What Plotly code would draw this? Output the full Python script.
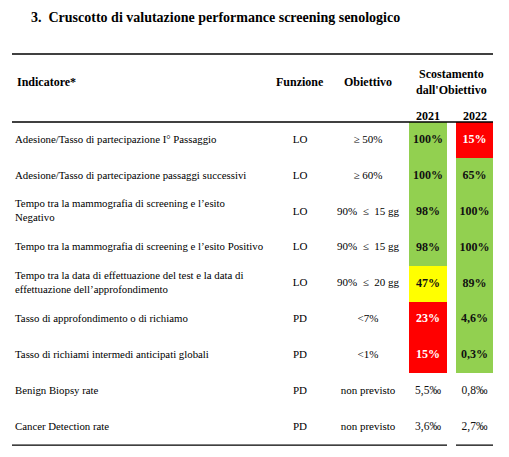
import plotly.graph_objects as go

# data
indicators = [
    "Adesione/Tasso di partecipazione I° Passaggio",
    "Adesione/Tasso di partecipazione passaggi successivi",
    "Tempo tra la mammografia di screening e l’esito<br>Negativo",
    "Tempo tra la mammografia di screening e l’esito Positivo",
    "Tempo tra la data di effettuazione del test e la data di<br>effettuazione dell’approfondimento",
    "Tasso di approfondimento o di richiamo",
    "Tasso di richiami intermedi anticipati globali",
    "Benign Biopsy rate",
    "Cancer Detection rate",
]
funzione = ["LO", "LO", "LO", "LO", "LO", "PD", "PD", "PD", "PD"]
obiettivo = ["≥ 50%", "≥ 60%", "90%  ≤  15 gg", "90%  ≤  15 gg", "90%  ≤  20 gg",
             "<7%", "<1%", "non previsto", "non previsto"]
years = ["2021", "2022"]
val_2021 = ["100%", "100%", "98%", "98%", "47%", "23%", "15%", "5,5‰", "3,6‰"]
val_2022 = ["15%", "65%", "100%", "100%", "89%", "4,6%", "0,3%", "0,8‰", "2,7‰"]
# 0 = green, 1 = yellow, 2 = red, None = no fill
status_2021 = [0, 0, 0, 0, 1, 2, 2, None, None]
status_2022 = [2, 0, 0, 0, 0, 0, 0, None, None]

# layout: axes in page pixels (page body has an 8px margin)
W, H = 509, 457
PAD = 8
FONT = "Liberation Serif, Times New Roman, serif"
GREEN, YELLOW, RED = "#92D050", "#FFFF00", "#FF0000"
ROW_TOP = 122
ROW_H = 35.9
X_IND, X_FUN, X_OBJ = 15, 300, 368
COL_EDGES = [409, 447, 456, 493]
X_2021, X_2022 = 428, 474.5
LINE_L, LINE_R = 12, 493

n = len(indicators)
row_edges = [ROW_TOP + i * ROW_H for i in range(n + 1)]
row_mid = [ROW_TOP + (i + 0.5) * ROW_H for i in range(n)]

fig = go.Figure()

# coloured cells
z = [[s21, None, s22] for s21, s22 in zip(status_2021, status_2022)]
fig.add_trace(go.Heatmap(
    x=COL_EDGES, y=row_edges, z=z,
    zmin=0, zmax=2,
    colorscale=[[0, GREEN], [0.33, GREEN], [0.34, YELLOW], [0.66, YELLOW], [0.67, RED], [1, RED]],
    showscale=False, hoverinfo="skip",
))

# left text columns
fig.add_trace(go.Scatter(
    x=[X_IND] * n, y=row_mid, mode="text", text=indicators,
    textposition="middle right",
    textfont=dict(family=FONT, size=10.8, color="black"),
    hoverinfo="skip",
))
for xc, col in [(X_FUN, funzione), (X_OBJ, obiettivo)]:
    fig.add_trace(go.Scatter(
        x=[xc] * n, y=row_mid, mode="text", text=col,
        textposition="middle center",
        textfont=dict(family=FONT, size=11, color="black"),
        hoverinfo="skip",
    ))

# year values
for xc, vals, stat in [(X_2021, val_2021, status_2021), (X_2022, val_2022, status_2022)]:
    txt = [f"<b>{v}</b>" if s is not None else v for v, s in zip(vals, stat)]
    colors = ["white" if s == 2 else "#111" for s in stat]
    fig.add_trace(go.Scatter(
        x=[xc] * n, y=row_mid, mode="text", text=txt,
        textposition="middle center",
        textfont=dict(family=FONT, size=[12 if s is not None else 11.5 for s in stat], color=colors),
        hoverinfo="skip",
    ))

# header
hdr = dict(font=dict(family=FONT, size=12, color="black"), showarrow=False, xref="x", yref="y")
fig.add_annotation(x=X_IND, y=82, text="<b>Indicatore*</b>", xanchor="left", **hdr)
fig.add_annotation(x=X_FUN, y=82, text="<b>Funzione</b>", **hdr)
fig.add_annotation(x=X_OBJ, y=82, text="<b>Obiettivo</b>", **hdr)
fig.add_annotation(x=451, y=82, text="<b>Scostamento<br>dall'Obiettivo</b>", **hdr)
for xc, yr in zip([X_2021, X_2022], years):
    fig.add_annotation(x=xc, y=116, text=f"<b>{yr}</b>", **hdr)

fig.add_annotation(
    x=29, y=17, text="<b>3.  Cruscotto di valutazione performance screening senologico</b>",
    xanchor="left", showarrow=False, xref="x", yref="y",
    font=dict(family=FONT, size=14, color="black"),
)

# rules
for y0, x0, x1 in [(54, LINE_L, LINE_R), (ROW_TOP, LINE_L, LINE_R),
                   (row_edges[-1], LINE_L, COL_EDGES[1]), (row_edges[-1], COL_EDGES[2], COL_EDGES[3])]:
    fig.add_shape(type="line", x0=x0, x1=x1, y0=y0, y1=y0, xref="x", yref="y",
                  line=dict(color="black", width=1.4))

fig.update_layout(
    width=W - 2 * PAD, height=H - 2 * PAD,
    margin=dict(l=0, r=0, t=0, b=0),
    paper_bgcolor="white", plot_bgcolor="white",
    showlegend=False,
    xaxis=dict(range=[PAD, W - PAD], visible=False, fixedrange=True),
    yaxis=dict(range=[H - PAD, PAD], visible=False, fixedrange=True),
)

fig.write_html("out.html")
